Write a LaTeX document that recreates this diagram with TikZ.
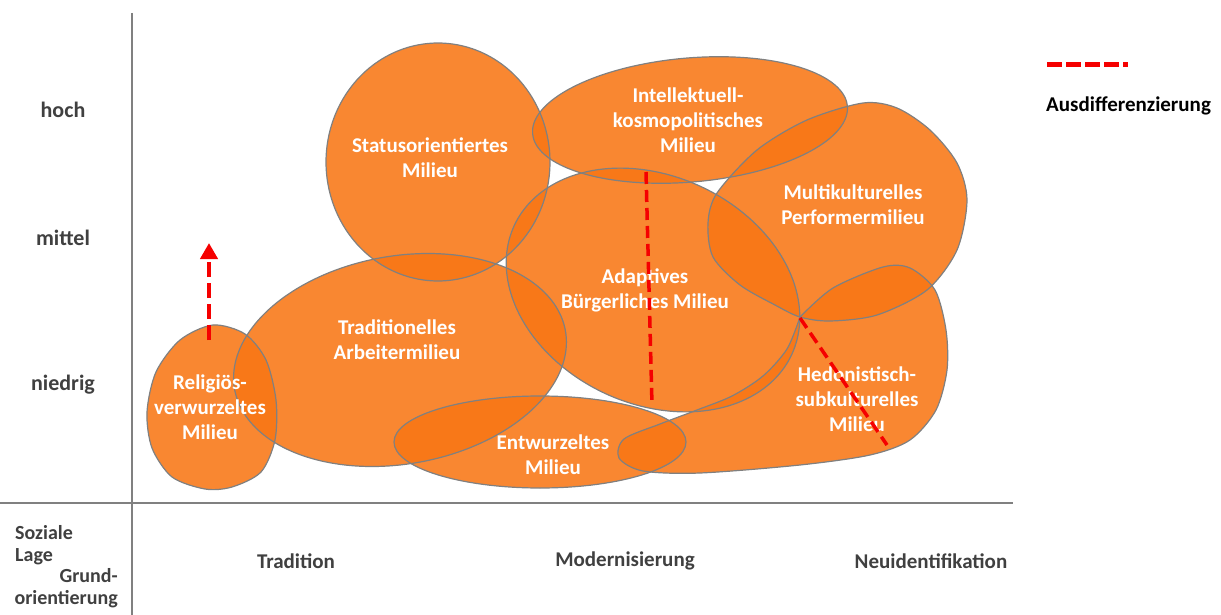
\documentclass[tikz,border=0pt]{standalone}
\usepackage{fontspec}
\setmainfont{Carlito}
\usetikzlibrary{arrows.meta, positioning}

\definecolor{milieuorange}{RGB}{248,118,20}
\definecolor{randgrau}{RGB}{128,128,128}
\definecolor{textgrau}{RGB}{64,64,64}
\definecolor{diffrot}{RGB}{245,0,0}

% gedrehte Ellipse: Mitte x, Mitte y, Radius a, Radius b, Winkel
\newcommand{\ellipsenpfad}[5]{plot[domain=0:356, samples=90, smooth cycle, variable=\t] ({#1+#3*cos(\t)*cos(#5)-#4*sin(\t)*sin(#5)}, {#2+#3*cos(\t)*sin(#5)+#4*sin(\t)*cos(#5)})}

% Umrisse der Milieus
\newcommand{\pfadReligioes}{plot[smooth cycle] coordinates {(213,325) (245,334) (266,360) (276,400) (275,440) (261,472) (232,487) (205,489) (172,477) (152,448) (147,412) (156,372) (180,340)}}
\newcommand{\pfadTradition}{\ellipsenpfad{400}{360}{168}{104}{-10}}
\newcommand{\pfadStatus}{\ellipsenpfad{438}{162}{112}{119}{0}}
\newcommand{\pfadIntellekt}{\ellipsenpfad{690}{120}{158}{62}{-5}}
\newcommand{\pfadAdaptiv}{\ellipsenpfad{653}{290}{153}{114}{25}}
\newcommand{\pfadMulti}{plot[smooth cycle] coordinates {(863,103) (897,108) (930,130) (957,163) (967,200) (957,250) (927,290) (877,315) (830,321) (800,317) (775,305) (740,285) (713,257) (708,223) (717,193) (757,150) (807,120)}}
\newcommand{\pfadHedon}{plot[smooth] coordinates {(800,317) (833,288) (883,267) (910,268) (935,290) (946,330) (947,370) (936,410) (910,440) (870,455) (800,465) (700,473) (643,471) (619,458) (624,439) (660,424) (697,410) (732,396) (763,376) (787,349) (800,317)} -- cycle}
\newcommand{\pfadEntwurzelt}{(540,442) ellipse [x radius=146pt, y radius=46pt]}

\begin{document}
\begin{tikzpicture}[x=1pt, y=-1pt,
		% Stil fuer die Milieu-Flaechen
		flaeche/.style={fill=milieuorange, fill opacity=0.88},
		rand/.style={draw=randgrau, line width=1.2pt},
		milieu/.style={text=white, font=\fontsize{21}{25}\selectfont\bfseries, align=center},
		% Stil fuer Achsen und Beschriftung
		achse/.style={draw=randgrau, line width=1.2pt},
		achsentext/.style={text=textgrau, font=\fontsize{21}{22}\selectfont\bfseries},
		% Stil fuer die Ausdifferenzierung
		diff/.style={draw=diffrot, line width=3.5pt, dash pattern=on 12pt off 6pt}
		]
	\useasboundingbox (0,0) rectangle (1221,615);
	
	% --- ACHSEN ---
	\coordinate (yoben) at (132,13);
	\coordinate (yunten) at (132,615);
	\coordinate (xlinks) at (0,503);
	\coordinate (xrechts) at (1013,503);
	\draw [achse] (yoben) -- (yunten);
	\draw [achse] (xlinks) -- (xrechts);
	
	\node [achsentext, font=\fontsize{22}{22}\selectfont\bfseries] (hoch) at (63,110) {hoch};
	\node [achsentext, font=\fontsize{22}{22}\selectfont\bfseries] (mittel) at (63,238) {mittel};
	\node [achsentext, font=\fontsize{22}{22}\selectfont\bfseries] (niedrig) at (63,385) {niedrig};
	
	\node [achsentext] (tradition) at (296,561) {Tradition};
	\node [achsentext] (modern) at (625,561) {Modernisierung};
	\node [achsentext] (neuident) at (931,561) {Neuidentifikation};
	\node [achsentext, font=\fontsize{20}{22}\selectfont\bfseries, align=left, anchor=west, inner sep=0pt] (lage) at (15,545) {Soziale\\Lage};
	\node [achsentext, font=\fontsize{20}{22}\selectfont\bfseries, align=right, anchor=east, inner sep=0pt] (grund) at (118,588) {Grund-\\orientierung};
	
	% --- MILIEUS ---
	\foreach \pfad in {\pfadReligioes, \pfadTradition, \pfadStatus, \pfadIntellekt, \pfadAdaptiv, \pfadMulti, \pfadHedon, \pfadEntwurzelt}
		\path [flaeche] \pfad;
	\foreach \pfad in {\pfadReligioes, \pfadTradition, \pfadStatus, \pfadIntellekt, \pfadAdaptiv, \pfadMulti, \pfadHedon, \pfadEntwurzelt}
		\path [rand] \pfad;
	
	\node [milieu] (religioes) at (210,407) {Religiös-\\verwurzeltes\\Milieu};
	\node [milieu] (arbeiter) at (397,340) {Traditionelles\\Arbeitermilieu};
	\node [milieu] (status) at (430,158) {Statusorientiertes\\Milieu};
	\node [milieu] (intellekt) at (688,120) {Intellektuell-\\kosmopolitisches\\Milieu};
	\node [milieu] (multi) at (853,205) {Multikulturelles\\Performermilieu};
	\node [milieu] (adaptiv) at (645,290) {Adaptives\\Bürgerliches Milieu};
	\node [milieu] (hedon) at (857,399) {Hedonistisch-\\subkulturelles\\Milieu};
	\node [milieu] (entwurzelt) at (553,455) {Entwurzeltes\\Milieu};
	
	% --- AUSDIFFERENZIERUNG ---
	\coordinate (pfeilstart) at (209,340);
	\coordinate (pfeilende) at (209,243);
	\draw [diff, line width=4pt, dash pattern=on 15pt off 6pt, -{Triangle[length=16pt, width=17pt]}] (pfeilstart) -- (pfeilende);
	\coordinate (adaptivoben) at (646,172);
	\coordinate (adaptivunten) at (652,405);
	\draw [diff] (adaptivoben) -- (adaptivunten);
	\coordinate (spitze) at (800,318);
	\coordinate (hedonunten) at (887,445);
	\draw [diff] (spitze) -- (hedonunten);
	
	% --- LEGENDE ---
	\coordinate (legstart) at (1047,65);
	\coordinate (legende) at (1128,65);
	\draw [diff, line width=5pt, dash pattern=on 15pt off 4pt] (legstart) -- (legende);
	\node [achsentext, text=black, anchor=west, inner sep=0pt] (ausdiff) at (1046,106) {Ausdifferenzierung};
	
\end{tikzpicture}
\end{document}
